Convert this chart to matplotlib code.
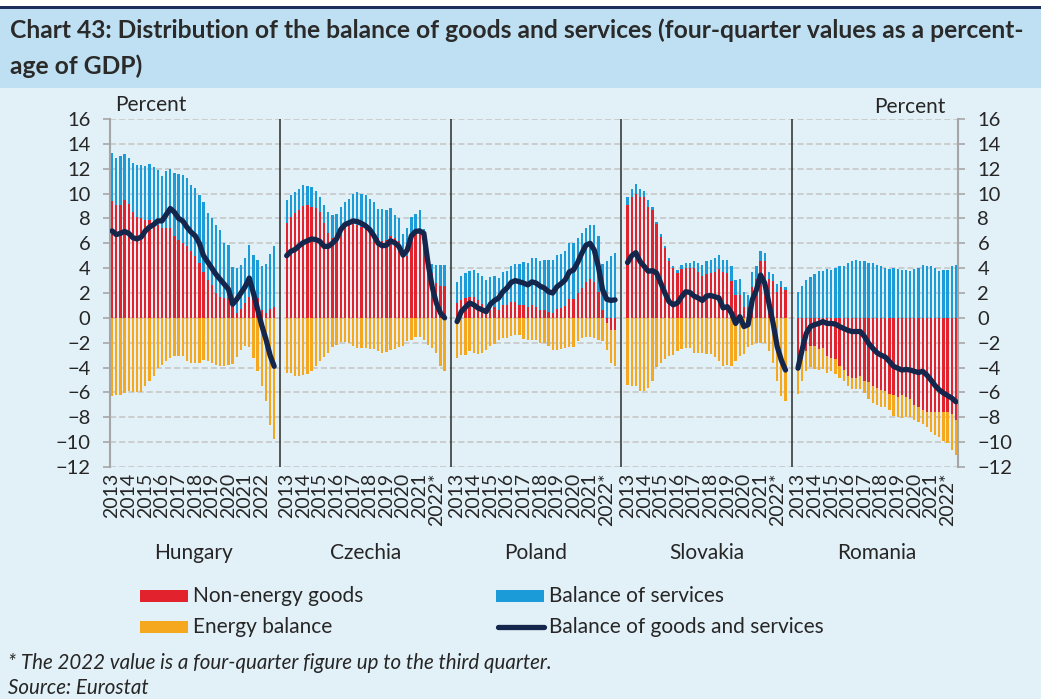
import numpy as np
import matplotlib.pyplot as plt
from matplotlib.patches import Rectangle
from matplotlib.lines import Line2D

plt.rcParams['font.family'] = ['Lato', 'DejaVu Sans']

countries = ['Hungary', 'Czechia', 'Poland', 'Slovakia', 'Romania']
years = list(range(2013, 2023))

# quarterly four-quarter sums, % of GDP
hu_nonenergy = [9.4, 9.1, 9.1, 9.45, 9.15, 8.55, 8.15, 8.0, 7.9, 7.9, 7.75, 7.5, 7.2, 7.2, 7.2, 6.55, 6.3, 6.0, 5.75, 5.35,
                4.95, 4.4, 3.7, 3.05, 2.65, 2.0, 1.7, 1.6, 1.6, 1.25, 0.4, 0.7, 1.2, 1.7, 2.25, 1.6, 0.65, 0.4, 0.7, 0.9]
hu_services = [3.9, 3.75, 3.9, 3.75, 3.7, 3.9, 4.15, 4.3, 4.3, 4.45, 4.35, 4.4, 4.25, 4.6, 4.8, 5.1, 5.3, 5.5, 5.5, 5.35,
               5.5, 5.5, 5.65, 5.35, 5.35, 5.45, 5.35, 4.4, 4.25, 2.85, 3.6, 3.55, 3.6, 4.15, 2.8, 3.05, 3.55, 3.9, 4.45, 4.85]
hu_energy = [-6.3, -6.2, -6.2, -6.05, -5.9, -5.95, -6.0, -6.0, -5.45, -5.1, -4.7, -4.05, -3.8, -3.5, -3.25, -3.1, -3.05, -3.1, -3.5, -3.65,
             -3.65, -3.6, -3.4, -3.45, -3.65, -3.8, -3.85, -3.85, -3.8, -3.7, -3.15, -2.55, -2.3, -2.35, -3.25, -4.3, -5.5, -6.7, -8.6, -9.75]
hu_balance = [7.0, 6.7, 6.8, 6.95, 6.8, 6.45, 6.35, 6.5, 7.0, 7.3, 7.5, 7.8, 7.8, 8.3, 8.8, 8.5, 8.0, 7.8, 7.3, 6.9,
              6.6, 6.0, 5.0, 4.5, 4.0, 3.5, 3.1, 2.7, 2.3, 1.1, 1.5, 2.0, 2.5, 3.2, 2.0, 0.7, -0.6, -1.7, -3.0, -3.9]

cz_nonenergy = [7.6, 8.1, 8.45, 8.7, 9.0, 9.05, 8.95, 8.85, 8.55, 7.6, 6.85, 6.4, 6.3, 7.1, 7.5, 7.65, 7.6, 7.5, 7.35, 7.2,
                6.95, 6.8, 6.4, 6.15, 6.3, 6.55, 6.4, 6.15, 5.35, 4.95, 6.15, 6.8, 6.95, 6.95, 4.95, 3.6, 2.8, 2.55, 2.55]
cz_services = [1.85, 1.8, 1.7, 1.65, 1.65, 1.55, 1.55, 1.35, 1.15, 1.45, 1.7, 1.85, 2.05, 1.8, 1.8, 1.9, 2.35, 2.6, 2.65, 2.65,
               2.6, 2.55, 2.35, 2.6, 2.35, 2.25, 1.85, 1.85, 1.4, 2.25, 2.0, 1.55, 1.75, 0.2, 0.4, 0.75, 1.45, 1.7, 1.7]
cz_energy = [-4.45, -4.45, -4.65, -4.65, -4.6, -4.55, -4.3, -3.9, -3.5, -3.15, -2.8, -2.35, -2.2, -1.95, -1.95, -2.05, -2.3, -2.4, -2.45, -2.45,
             -2.5, -2.5, -2.7, -2.85, -2.75, -2.6, -2.5, -2.35, -2.25, -1.9, -1.75, -1.5, -1.5, -1.75, -2.2, -2.45, -2.85, -3.9, -4.3]
cz_balance = [5.0, 5.35, 5.5, 5.8, 6.05, 6.2, 6.35, 6.3, 6.15, 5.75, 5.75, 6.0, 6.35, 7.1, 7.5, 7.65, 7.8, 7.75, 7.6, 7.4,
              7.1, 6.6, 6.0, 5.8, 5.85, 6.2, 6.05, 5.75, 5.05, 5.45, 6.6, 6.95, 7.0, 6.8, 4.4, 2.5, 1.2, 0.4, 0.0]

pl_nonenergy = [1.2, 1.45, 1.6, 1.7, 1.65, 1.4, 1.1, 0.7, 0.65, 0.85, 0.65, 1.05, 1.05, 1.3, 1.3, 1.05, 1.05, 0.9, 1.05, 0.9,
                0.6, 0.6, 0.5, 0.4, 0.7, 0.8, 0.95, 1.5, 1.5, 2.0, 2.4, 2.85, 3.15, 2.9, 2.05, 0.65, -0.4, -1.0, -1.0]
pl_services = [1.65, 1.95, 2.0, 2.1, 2.2, 2.2, 2.3, 2.35, 2.65, 2.55, 2.55, 2.6, 2.7, 2.9, 3.05, 3.3, 3.45, 3.55, 3.75, 3.9,
               4.0, 4.05, 4.15, 4.25, 4.35, 4.35, 4.45, 4.5, 4.55, 4.4, 4.4, 4.35, 4.35, 4.55, 4.5, 3.65, 4.6, 5.0, 5.25]
pl_energy = [-3.25, -3.0, -3.0, -2.7, -2.8, -2.9, -2.8, -2.6, -2.25, -2.1, -1.8, -1.65, -1.6, -1.45, -1.35, -1.4, -1.7, -1.75, -1.75, -1.8,
             -2.0, -2.05, -2.25, -2.6, -2.55, -2.5, -2.4, -2.35, -2.35, -1.85, -1.65, -1.55, -1.55, -1.65, -1.75, -1.9, -2.2, -2.6, -2.85]
pl_balance = [-0.3, 0.5, 0.85, 1.2, 1.05, 0.8, 0.65, 0.5, 1.1, 1.4, 1.6, 2.1, 2.4, 2.85, 3.0, 2.9, 2.8, 2.65, 2.9, 2.8,
              2.55, 2.4, 2.1, 2.0, 2.5, 2.75, 3.05, 3.7, 3.85, 4.45, 5.2, 5.85, 6.0, 5.45, 4.1, 2.25, 1.5, 1.4, 1.45]

sk_nonenergy = [9.1, 9.75, 9.95, 9.75, 9.7, 8.95, 8.65, 7.55, 6.5, 5.6, 4.55, 4.0, 3.6, 3.9, 4.0, 4.0, 4.05, 3.7, 3.4, 3.55,
                3.6, 3.65, 3.9, 3.65, 3.6, 3.0, 1.85, 1.85, 0.85, 0.9, 2.45, 3.1, 4.55, 4.55, 3.1, 3.0, 2.1, 2.5, 2.25]
sk_services = [0.65, 0.65, 0.8, 0.65, 0.5, 0.5, 0.25, 0.2, 0.25, 0.2, 0.25, 0.2, 0.25, 0.35, 0.4, 0.4, 0.5, 0.7, 0.85, 1.05,
               1.05, 1.15, 1.15, 1.0, 1.05, 1.2, 1.2, 1.25, 1.25, 0.9, 1.2, 1.1, 0.8, 0.65, 0.55, 0.55, 0.65, 0.5, 0.25]
sk_energy = [-5.4, -5.45, -5.5, -5.9, -5.9, -5.65, -5.1, -3.95, -3.6, -3.3, -3.1, -3.0, -2.7, -2.5, -2.45, -2.45, -2.85, -2.8, -2.85, -2.9,
             -2.9, -3.15, -3.45, -3.9, -3.8, -3.9, -3.45, -3.05, -2.9, -2.35, -2.15, -2.05, -2.05, -2.05, -2.65, -3.6, -5.05, -6.25, -6.7]
sk_balance = [4.45, 5.0, 5.25, 4.55, 4.15, 3.75, 3.8, 3.6, 2.8, 2.0, 1.3, 1.05, 1.2, 1.7, 2.1, 2.05, 1.75, 1.6, 1.4, 1.75,
              1.8, 1.7, 1.6, 0.8, 0.9, 0.4, -0.45, 0.1, -0.7, -0.55, 1.45, 2.25, 3.45, 2.8, 1.2, -0.4, -2.3, -3.4, -4.2]

ro_nonenergy = [-4.2, -3.3, -2.7, -2.3, -2.3, -2.5, -2.45, -3.05, -3.25, -3.3, -3.9, -4.2, -4.7, -4.85, -4.85, -4.7, -5.05, -5.2, -5.5, -5.65,
                -5.8, -5.9, -6.1, -6.2, -6.35, -6.2, -6.35, -6.55, -7.0, -7.2, -7.4, -7.55, -7.55, -7.55, -7.55, -7.55, -7.55, -7.7, -8.2]
ro_services = [2.1, 2.55, 3.05, 3.25, 3.55, 3.75, 3.8, 3.95, 3.85, 4.0, 4.15, 4.2, 4.45, 4.6, 4.65, 4.6, 4.55, 4.45, 4.4, 4.25,
               4.2, 4.05, 3.95, 4.0, 3.9, 3.85, 3.85, 3.8, 3.9, 4.0, 4.25, 4.2, 4.15, 4.0, 3.8, 3.85, 3.85, 4.15, 4.25]
ro_energy = [-1.95, -1.8, -1.6, -1.65, -1.8, -1.7, -1.65, -1.35, -1.05, -1.2, -0.95, -0.85, -0.75, -0.85, -0.9, -1.0, -1.0, -1.3, -1.35, -1.4,
             -1.4, -1.3, -1.35, -1.7, -1.6, -1.85, -1.65, -1.45, -1.2, -1.2, -1.15, -1.25, -1.6, -1.9, -2.05, -2.35, -2.55, -2.9, -2.8]
ro_balance = [-4.05, -2.55, -1.25, -0.7, -0.55, -0.45, -0.3, -0.45, -0.45, -0.5, -0.7, -0.85, -1.0, -1.1, -1.1, -1.1, -1.5, -2.05, -2.45, -2.8,
              -3.0, -3.15, -3.5, -3.9, -4.05, -4.2, -4.15, -4.2, -4.3, -4.4, -4.3, -4.6, -5.0, -5.45, -5.8, -6.05, -6.25, -6.45, -6.75]

panels = [
    (hu_nonenergy, hu_services, hu_energy, hu_balance),
    (cz_nonenergy, cz_services, cz_energy, cz_balance),
    (pl_nonenergy, pl_services, pl_energy, pl_balance),
    (sk_nonenergy, sk_services, sk_energy, sk_balance),
    (ro_nonenergy, ro_services, ro_energy, ro_balance),
]

RED = '#e2232d'
BLUE = '#1b9bd7'
ORANGE = '#f5a81e'
NAVY = '#14264b'
BG = '#e2f0f7'
BAND = '#bee0f2'
TXT = '#262626'
FS = 15

W, H = 1041, 699
fig = plt.figure(figsize=(W / 100, H / 100), dpi=100, facecolor=BG)
renderer = fig.canvas.get_renderer()


def fit_width(t, px):
    # rescale a text so it spans the given number of pixels
    w = t.get_window_extent(renderer=renderer).width
    t.set_fontsize(t.get_fontsize() * px / w)
    return t.get_fontsize()


# header band
fig.add_artist(Rectangle((0, 1 - 6 / H), 1, 6 / H, transform=fig.transFigure, color='white', lw=0))
fig.add_artist(Rectangle((0, 1 - 8.5 / H), 1, 2.5 / H, transform=fig.transFigure, color='#1f2d5a', lw=0))
fig.add_artist(Rectangle((0, 1 - 88 / H), 1, 79.5 / H, transform=fig.transFigure, color=BAND, lw=0))
t1 = fig.text(10 / W, 1 - 38 / H, 'Chart 43: Distribution of the balance of goods and services (four-quarter values as a percent-',
              fontsize=16, fontweight='bold', color='#2a2a2a', va='baseline')
title_fs = fit_width(t1, 1020)
fig.text(10 / W, 1 - 74 / H, 'age of GDP)', fontsize=title_fs, fontweight='bold', color='#2a2a2a', va='baseline')

ax = fig.add_axes([110 / W, 1 - 467 / H, 848 / W, 348 / H])
ax.set_facecolor(BG)

ticks, ticklabels, seps, centers = [], [], [], []
start = 0
for i, (ne, sv, en, bal) in enumerate(panels):
    ne, sv, en, bal = map(np.asarray, (ne, sv, en, bal))
    x = start + np.arange(len(ne))
    ax.bar(x, ne, width=0.55, color=RED, lw=0, zorder=2)
    ax.bar(x, sv, bottom=np.maximum(ne, 0), width=0.55, color=BLUE, lw=0, zorder=2)
    ax.bar(x, en, bottom=np.minimum(ne, 0), width=0.55, color=ORANGE, lw=0, zorder=2)
    ax.plot(x, bal, color=NAVY, lw=3.8, solid_capstyle='round', solid_joinstyle='round', zorder=3)
    for k, yr in enumerate(years):
        ticks.append(start + 4 * k)
        lab = str(yr)
        if yr == 2022 and i > 0:
            lab += '*'
        ticklabels.append(lab)
    centers.append(x.mean())
    if i > 0:
        seps.append(start - 1.5)
    start = x[-1] + 3

for s in seps:
    ax.axvline(s, color='#3a3a3a', lw=1.2, zorder=4)

ax.set_xlim(-0.5, start - 2.5)
ax.set_ylim(-12, 16)
ax.set_yticks(range(-12, 17, 2))
ax.set_xticks(ticks)
ax.set_xticklabels(ticklabels, rotation=90, fontsize=14, color=TXT)
ax.tick_params(axis='x', length=0, pad=4)
ax.tick_params(axis='y', left=True, right=True, labelleft=True, labelright=True, direction='out',
               length=5, width=1.2, color='#a6a6a6', pad=9, labelsize=14.5, labelcolor=TXT)
ax.yaxis.grid(True, color='#c4c4c4', linestyle=(0, (4, 2)), lw=1.1)
ax.set_axisbelow(True)
for side in ['top', 'bottom']:
    ax.spines[side].set_visible(False)
for side in ['left', 'right']:
    ax.spines[side].set_color('#a6a6a6')
    ax.spines[side].set_linewidth(1.5)

ax.text(0.006, 1.04, 'Percent', transform=ax.transAxes, fontsize=FS, color=TXT, va='center', ha='left')
ax.text(0.985, 1.035, 'Percent', transform=ax.transAxes, fontsize=FS, color=TXT, va='center', ha='right')

xt = ax.get_xaxis_transform()
for c, name in zip(centers, countries):
    ax.text(c, -0.247, name, transform=xt, fontsize=FS, color=TXT, ha='center', va='center')

# legend
items = [('Non-energy goods', RED, 140, 596, 'bar'), ('Balance of services', BLUE, 496, 596, 'bar'),
         ('Energy balance', ORANGE, 140, 627, 'bar'), ('Balance of goods and services', NAVY, 496, 627, 'line')]
for label, col, lx, ly, kind in items:
    if kind == 'bar':
        fig.add_artist(Rectangle((lx / W, 1 - (ly + 6) / H), 48 / W, 12 / H, transform=fig.transFigure, color=col, lw=0))
    else:
        fig.add_artist(Line2D([(lx + 2) / W, (lx + 48) / W], [1 - ly / H, 1 - ly / H], transform=fig.transFigure,
                              color=col, lw=3.8, solid_capstyle='round'))
    fig.text((lx + 53) / W, 1 - ly / H, label, fontsize=FS, color=TXT, va='center', ha='left')

note = fig.text(8 / W, 1 - 663 / H, '* The 2022 value is a four-quarter figure up to the third quarter.', fontsize=13,
                style='italic', color=TXT, va='center')
note_fs = fit_width(note, 545)
fig.text(8 / W, 1 - 688 / H, 'Source: Eurostat', fontsize=note_fs, style='italic', color=TXT, va='center')

fig.savefig('out.png', dpi=100, facecolor=BG)
